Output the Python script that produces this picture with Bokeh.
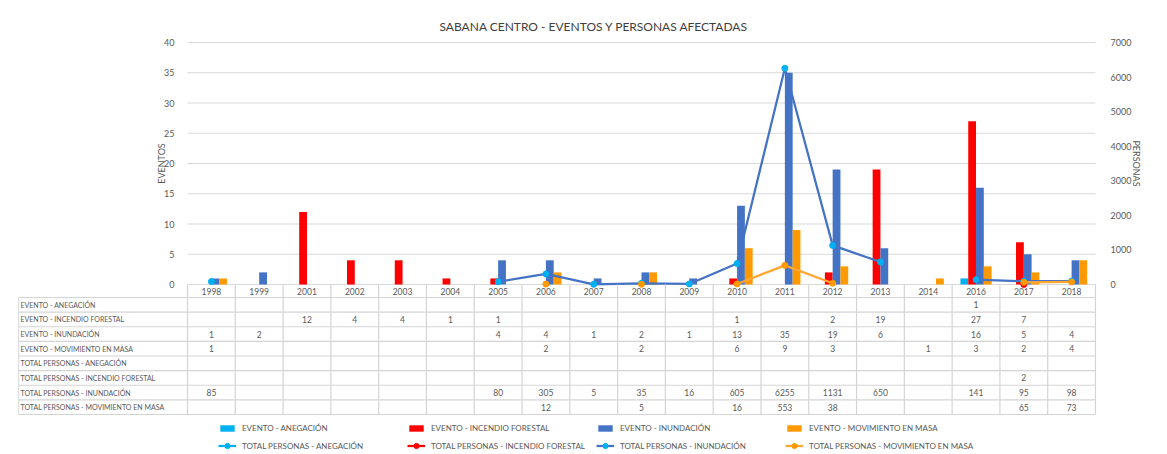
import math
from bokeh.plotting import figure
from bokeh.models import (ColumnDataSource, Range1d, LinearAxis, FixedTicker,
                          Legend, LegendItem)
from bokeh.transform import dodge
from bokeh.core.properties import value
from bokeh.embed import file_html
from bokeh.resources import INLINE

# ---------------- data ----------------
years = ["1998", "1999", "2001", "2002", "2003", "2004", "2005", "2006", "2007",
         "2008", "2009", "2010", "2011", "2012", "2013", "2014", "2016", "2017", "2018"]

ev_anegacion = [None, None, None, None, None, None, None, None, None, None,
                None, None, None, None, None, None, 1, None, None]
ev_incendio = [None, None, 12, 4, 4, 1, 1, None, None, None,
               None, 1, None, 2, 19, None, 27, 7, None]
ev_inundacion = [1, 2, None, None, None, None, 4, 4, 1, 2,
                 1, 13, 35, 19, 6, None, 16, 5, 4]
ev_movimiento = [1, None, None, None, None, None, None, 2, None, 2,
                 None, 6, 9, 3, None, 1, 3, 2, 4]

pe_anegacion = [None, None, None, None, None, None, None, None, None, None,
                None, None, None, None, None, None, None, None, None]
pe_incendio = [None, None, None, None, None, None, None, None, None, None,
               None, None, None, None, None, None, None, 2, None]
pe_inundacion = [85, None, None, None, None, None, 80, 305, 5, 35,
                 16, 605, 6255, 1131, 650, None, 141, 95, 98]
pe_movimiento = [None, None, None, None, None, None, None, 12, None, 5,
                 None, 16, 553, 38, None, None, None, 65, 73]

ev_labels = ["EVENTO - ANEGACIÓN", "EVENTO - INCENDIO FORESTAL",
             "EVENTO - INUNDACIÓN", "EVENTO - MOVIMIENTO EN MASA"]
pe_labels = ["TOTAL PERSONAS - ANEGACIÓN", "TOTAL PERSONAS - INCENDIO FORESTAL",
             "TOTAL PERSONAS - INUNDACIÓN", "TOTAL PERSONAS - MOVIMIENTO EN MASA"]

ev_ticks = [0, 5, 10, 15, 20, 25, 30, 35, 40]
pe_ticks = [0, 1000, 2000, 3000, 4000, 5000, 6000, 7000]

title_text = "SABANA CENTRO - EVENTOS Y PERSONAS AFECTADAS"

# ---------------- style ----------------
FONT = "Lato"
TXT = "#595959"
GRID = "#D9D9D9"
TBL = "#D4D4D4"
bar_colors = ["#00B0F0", "#FF0000", "#4472C4", "#FF9900"]
line_colors = ["#00B0F0", "#FF0000", "#4472C4", "#FFA733"]
marker_colors = ["#00B0F0", "#FF0000", "#00B0F0", "#FF9900"]

# ---------------- layout (pixels) ----------------
W, H = 1167, 454
frame_left = 18                        # table left edge
frame_top = 38
plot_left, plot_right = 187, 1095      # edges of the category columns
zero_y = 284                           # pixel row of value 0
top_y = 42                             # pixel row of the top tick
hdr_h = 13                             # year header row height
row_h = 14.625                         # data table row height
n = len(years)
cat_w = (plot_right - plot_left) / n
label_units = (plot_left - frame_left) / cat_w
right_units = (W - plot_right) / cat_w
px_per_ev = (zero_y - top_y) / ev_ticks[-1]
px_per_pe = (zero_y - top_y) / pe_ticks[-1]

p = figure(width=W, height=H, x_range=Range1d(-label_units, n + right_units),
           y_range=Range1d(-(H - zero_y) / px_per_ev, (zero_y - frame_top) / px_per_ev),
           output_backend="svg", toolbar_location=None, x_axis_location=None,
           min_border_left=frame_left, min_border_right=0,
           min_border_top=frame_top, min_border_bottom=0, outline_line_color=None)
p.extra_y_ranges = {
    "personas": Range1d(-(H - zero_y) / px_per_pe, (zero_y - frame_top) / px_per_pe),
    "table": Range1d(H - zero_y, frame_top - zero_y),   # pixels below the zero line
}
p.grid.visible = False

p.title.text = title_text
p.title.align = "left"
p.title.offset = 421
p.title.standoff = 10
p.title.text_font = FONT
p.title.text_font_size = "12px"
p.title.text_font_style = "normal"
p.title.text_color = "#404040"

def style_axis(ax):
    ax.axis_line_color = None
    ax.major_tick_line_color = None
    ax.minor_tick_line_color = None
    ax.major_label_text_font = FONT
    ax.major_label_text_font_size = "9px"
    ax.major_label_text_color = TXT
    ax.major_label_standoff = 8
    ax.axis_label_text_font = FONT
    ax.axis_label_text_font_size = "9px"
    ax.axis_label_text_font_style = "normal"
    ax.axis_label_text_color = TXT

yl = p.yaxis[0]
yl.ticker = FixedTicker(ticks=ev_ticks)
yl.bounds = (ev_ticks[0], ev_ticks[-1])
yl.fixed_location = 0
yl.axis_label = "EVENTOS"
style_axis(yl)
yl.major_label_standoff = 7
yl.axis_label_standoff = -6

yr = LinearAxis(y_range_name="personas", ticker=FixedTicker(ticks=pe_ticks),
                bounds=(pe_ticks[0], pe_ticks[-1]), axis_label="PERSONAS")
style_axis(yr)
yr.major_label_standoff = 9
yr.axis_label_standoff = -3
yr.fixed_location = n
p.add_layout(yr, "right")

xc = [i + 0.5 for i in range(n)]

# horizontal grid lines at the event ticks
p.segment(x0=[0] * len(ev_ticks), x1=[n] * len(ev_ticks), y0=ev_ticks, y1=ev_ticks,
          line_color=GRID, line_width=1)

# bars
bar_w = 0.163
ev_series = [ev_anegacion, ev_incendio, ev_inundacion, ev_movimiento]
offsets = [-1.5, -0.5, 0.5, 1.5]
bar_r = []
for vals, col, off in zip(ev_series, bar_colors, offsets):
    src = ColumnDataSource(dict(
        x=[x for x, v in zip(xc, vals) if v is not None],
        val=[v for v in vals if v is not None]))
    bar_r.append(p.vbar(x=dodge("x", off * bar_w), top="val", width=bar_w,
                        source=src, fill_color=col, line_color=None))

# lines (secondary axis)
pe_series = [pe_anegacion, pe_incendio, pe_inundacion, pe_movimiento]
line_r = []
for vals, lc, mc in zip(pe_series, line_colors, marker_colors):
    src = ColumnDataSource(dict(x=xc, val=[float("nan") if v is None else v for v in vals]))
    rl = p.line(x="x", y="val", source=src, line_color=lc, line_width=2.25,
                y_range_name="personas")
    rs = p.scatter(x="x", y="val", source=src, size=6, fill_color=mc, line_color=mc,
                   y_range_name="personas")
    line_r.append([rl, rs])

# ---------------- data table ----------------
rows = list(zip(ev_labels + pe_labels, ev_series + pe_series))
nrows = len(rows)
row_top = [hdr_h + k * row_h for k in range(nrows + 1)]
table_bottom = row_top[-1]

# header row (years)
p.text(x=xc, y=[hdr_h / 2] * n, text=years, y_range_name="table",
       text_align="center", text_baseline="middle", text_font=value(FONT),
       text_font_size="8.5px", text_color=TXT)
hx = list(range(n + 1))
p.segment(x0=hx, x1=hx, y0=[0] * len(hx), y1=[table_bottom] * len(hx),
          y_range_name="table", line_color=TBL, line_width=1.2)
p.segment(x0=[-label_units] * 2, x1=[-label_units] * 2, y0=[hdr_h] * 2,
          y1=[table_bottom] * 2, y_range_name="table", line_color=TBL, line_width=1.2)
p.segment(x0=[-label_units] * len(row_top), x1=[n] * len(row_top), y0=row_top,
          y1=row_top, y_range_name="table", line_color=TBL, line_width=1.2)

# row labels
p.text(x=[-label_units + 2 / cat_w] * nrows,
       y=[row_top[r] + row_h / 2 for r in range(nrows)],
       text=[lab for lab, _ in rows], y_range_name="table",
       text_align="left", text_baseline="middle", text_font=value(FONT),
       text_font_size="7px", text_color=TXT)

# cell values
cx, cy, ct = [], [], []
for r, (_, vals) in enumerate(rows):
    for i, v in enumerate(vals):
        if v is not None:
            cx.append(xc[i])
            cy.append(row_top[r] + row_h / 2)
            ct.append(str(v))
p.text(x=cx, y=cy, text=ct, y_range_name="table", text_align="center",
       text_baseline="middle", text_font=value(FONT), text_font_size="8.5px",
       text_color=TXT)

# ---------------- legend ----------------
def make_legend(items, gh, loc):
    return Legend(items=items, location=loc, orientation="horizontal",
                  glyph_width=18, glyph_height=gh, label_standoff=6,
                  label_width=165, label_height=8, spacing=0, padding=0, margin=0,
                  border_line_color=None, background_fill_alpha=0,
                  label_text_font=FONT, label_text_font_size="8px",
                  label_text_color=TXT)

items1 = [LegendItem(label=lab, renderers=[r]) for lab, r in zip(ev_labels, bar_r)]
items2 = [LegendItem(label=lab, renderers=rr) for lab, rr in zip(pe_labels, line_r)]
p.add_layout(make_legend(items1, 8, (200, 21)))
p.add_layout(make_legend(items2, 13, (200, 2)))

open("out.html", "w").write(file_html(p, INLINE))
